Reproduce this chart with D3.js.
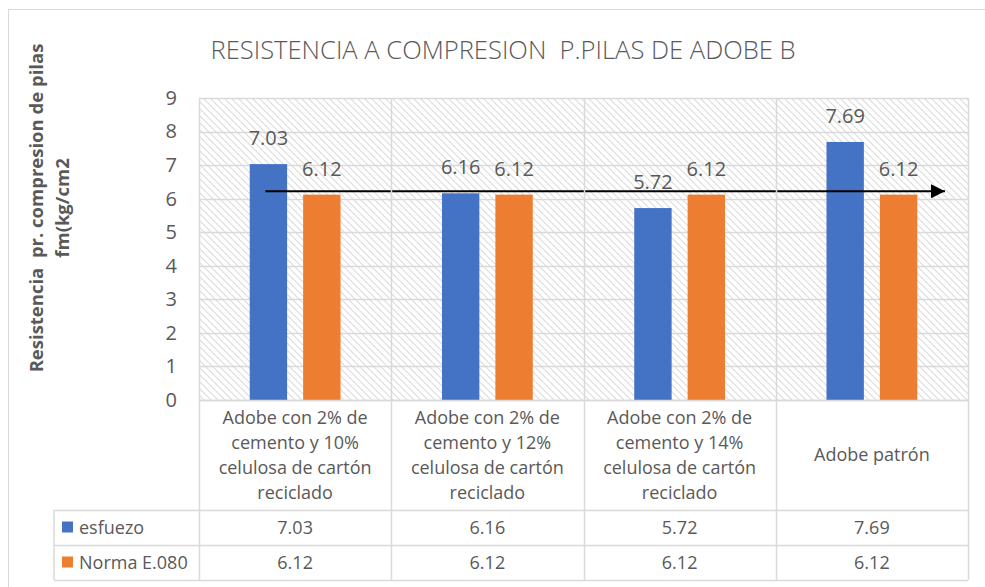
<!DOCTYPE html>
<html>
<head>
<meta charset="utf-8">
<script src="https://cdn.jsdelivr.net/npm/d3@7"></script>
<style>
  body { margin: 0; background: #fff; }
  text { font-family: "Open Sans", "Noto Sans", sans-serif; fill: #595959; white-space: pre; }
</style>
</head>
<body>
<div id="chart"></div>
<script>
var categories = [
    ["Adobe con 2% de", "cemento y 10%", "celulosa de cartón", "reciclado"],
    ["Adobe con 2% de", "cemento y 12%", "celulosa de cartón", "reciclado"],
    ["Adobe con 2% de", "cemento y 14%", "celulosa de cartón", "reciclado"],
    ["Adobe patrón"]
];
var seriesNames = ["esfuezo", "Norma E.080"];
var esfuezo = [7.03, 6.16, 5.72, 7.69];
var norma = [6.12, 6.12, 6.12, 6.12];
var yTicks = [0, 1, 2, 3, 4, 5, 6, 7, 8, 9];
var arrowLevel = 6.22;

var colors = ["#4472C4", "#ED7D31"];
var series = [esfuezo, norma];

var width = 985, height = 587;
var plot = {left: 199, right: 968, top: 98, bottom: 400};
var rowCat = 510, row1 = 545, row2 = 580, tableLeft = 54;

var svg = d3.select("#chart").append("svg")
    .attr("width", width)
    .attr("height", height);

var defs = svg.append("defs");
var pat = defs.append("pattern")
    .attr("id", "hatch")
    .attr("patternUnits", "userSpaceOnUse")
    .attr("width", 7)
    .attr("height", 7);
pat.append("rect").attr("width", 7).attr("height", 7).attr("fill", "#fff");
pat.append("path")
    .attr("d", "M-1,-1 L8,8 M-1,6 L1,8 M6,-1 L8,1")
    .attr("stroke", "#dcdcdc")
    .attr("stroke-width", 1.1);

defs.append("marker")
    .attr("id", "arrow")
    .attr("viewBox", "0 0 10 10")
    .attr("refX", 10)
    .attr("refY", 5)
    .attr("markerWidth", 8)
    .attr("markerHeight", 7)
    .attr("markerUnits", "strokeWidth")
    .attr("orient", "auto")
    .append("path")
    .attr("d", "M0,0 L10,5 L0,10 z")
    .attr("fill", "#000");

// chart border
svg.append("rect")
    .attr("x", 8.5).attr("y", 9.5)
    .attr("width", 1000).attr("height", 1000)
    .attr("fill", "none")
    .attr("stroke", "#d9d9d9");

var x = d3.scaleBand()
    .domain(d3.range(categories.length))
    .range([plot.left, plot.right]);

var xInner = d3.scaleBand()
    .domain(d3.range(series.length))
    .range([0, x.bandwidth()])
    .paddingInner(0.3)
    .paddingOuter(0.95);

var y = d3.scaleLinear()
    .domain([0, 9])
    .range([plot.bottom, plot.top]);

// hatched plot background
svg.append("rect")
    .attr("x", plot.left).attr("y", plot.top)
    .attr("width", plot.right - plot.left)
    .attr("height", plot.bottom - plot.top)
    .attr("fill", "url(#hatch)");

// horizontal gridlines
svg.append("g")
    .selectAll("line")
    .data(yTicks)
    .enter()
    .append("line")
    .attr("x1", plot.left).attr("x2", plot.right)
    .attr("y1", function(d) { return Math.round(y(d)) + 0.5; })
    .attr("y2", function(d) { return Math.round(y(d)) + 0.5; })
    .attr("stroke", "#d9d9d9")
    .attr("stroke-width", 1.5);

// y tick labels
var yAxis = d3.axisLeft(y).tickValues(yTicks).tickSize(0).tickPadding(22);
var gy = svg.append("g")
    .attr("transform", "translate(" + plot.left + ",0)")
    .call(yAxis);
gy.select(".domain").remove();
gy.selectAll("text")
    .style("font-size", "20px")
    .attr("fill", "#595959");

// bars
series.forEach(function(vals, s) {
    svg.append("g")
        .selectAll("rect")
        .data(vals)
        .enter()
        .append("rect")
        .attr("x", function(d, i) { return x(i) + xInner(s); })
        .attr("y", function(d) { return y(d); })
        .attr("width", xInner.bandwidth())
        .attr("height", function(d) { return y(0) - y(d); })
        .attr("fill", colors[s]);

    svg.append("g")
        .selectAll("text")
        .data(vals)
        .enter()
        .append("text")
        .attr("x", function(d, i) { return x(i) + xInner(s) + xInner.bandwidth() / 2; })
        .attr("y", function(d) { return y(d) - 19; })
        .attr("text-anchor", "middle")
        .style("font-size", "20px")
        .text(function(d) { return d.toFixed(2); });
});

// arrow
svg.append("line")
    .attr("x1", x(0) + xInner(0) + xInner.bandwidth() / 2 - 3)
    .attr("x2", plot.right - 23)
    .attr("y1", y(arrowLevel))
    .attr("y2", y(arrowLevel))
    .attr("stroke", "#000")
    .attr("stroke-width", 2)
    .attr("marker-end", "url(#arrow)");

// table lines
var tbl = svg.append("g").attr("stroke", "#d9d9d9").attr("stroke-width", 1.5);
var bounds = x.domain().map(function(i) { return x(i); }).concat([plot.right]);
tbl.selectAll("line.v")
    .data(bounds)
    .enter()
    .append("line")
    .attr("x1", function(d) { return Math.round(d) + 0.5; })
    .attr("x2", function(d) { return Math.round(d) + 0.5; })
    .attr("y1", plot.top)
    .attr("y2", row2);
tbl.append("line").attr("x1", tableLeft).attr("x2", tableLeft).attr("y1", rowCat).attr("y2", row2);
[rowCat, row1, row2].forEach(function(r) {
    tbl.append("line")
        .attr("x1", tableLeft)
        .attr("x2", plot.right)
        .attr("y1", r + 0.5).attr("y2", r + 0.5);
});
tbl.append("line")
    .attr("x1", plot.left).attr("x2", plot.right)
    .attr("y1", plot.bottom + 0.5).attr("y2", plot.bottom + 0.5);

// category labels
categories.forEach(function(lines, i) {
    var cy = (plot.bottom + rowCat) / 2;
    var lh = 25;
    var t = svg.append("text")
        .attr("text-anchor", "middle")
        .style("font-size", "18px");
    lines.forEach(function(l, k) {
        t.append("tspan")
            .attr("x", x(i) + x.bandwidth() / 2)
            .attr("y", cy + (k - (lines.length - 1) / 2) * lh)
            .attr("dy", "0.35em")
            .text(l);
    });
});

// table values + legend keys
var rowTops = [rowCat, row1];
var rowBots = [row1, row2];
series.forEach(function(vals, s) {
    var cy = (rowTops[s] + rowBots[s]) / 2;
    svg.append("g")
        .selectAll("text")
        .data(vals)
        .enter()
        .append("text")
        .attr("x", function(d, i) { return x(i) + x.bandwidth() / 2; })
        .attr("y", cy)
        .attr("dy", "0.35em")
        .attr("text-anchor", "middle")
        .style("font-size", "18px")
        .text(function(d) { return d.toFixed(2); });
    svg.append("rect")
        .attr("x", 62).attr("y", cy - 6)
        .attr("width", 11).attr("height", 11)
        .attr("fill", colors[s]);
    svg.append("text")
        .attr("x", 79).attr("y", cy)
        .attr("dy", "0.35em")
        .style("font-size", "18px")
        .text(seriesNames[s]);
});

// title
svg.append("text")
    .attr("x", 503)
    .attr("y", 50)
    .attr("dy", "0.35em")
    .attr("text-anchor", "middle")
    .attr("textLength", 585)
    .attr("lengthAdjust", "spacingAndGlyphs")
    .style("font-size", "25px")
    .style("font-weight", 300)
    .text("RESISTENCIA A COMPRESION  P.PILAS DE ADOBE B");

// y axis title
var yt = svg.append("text")
    .attr("transform", "translate(0,208) rotate(-90)")
    .attr("text-anchor", "middle")
    .style("font-size", "18.5px")
    .style("font-weight", "bold");
yt.append("tspan").attr("x", 0).attr("y", 43).text("Resistencia  pr. compresion de pilas");
yt.append("tspan").attr("x", 0).attr("y", 69).text("fm(kg/cm2");
</script>
</body>
</html>
